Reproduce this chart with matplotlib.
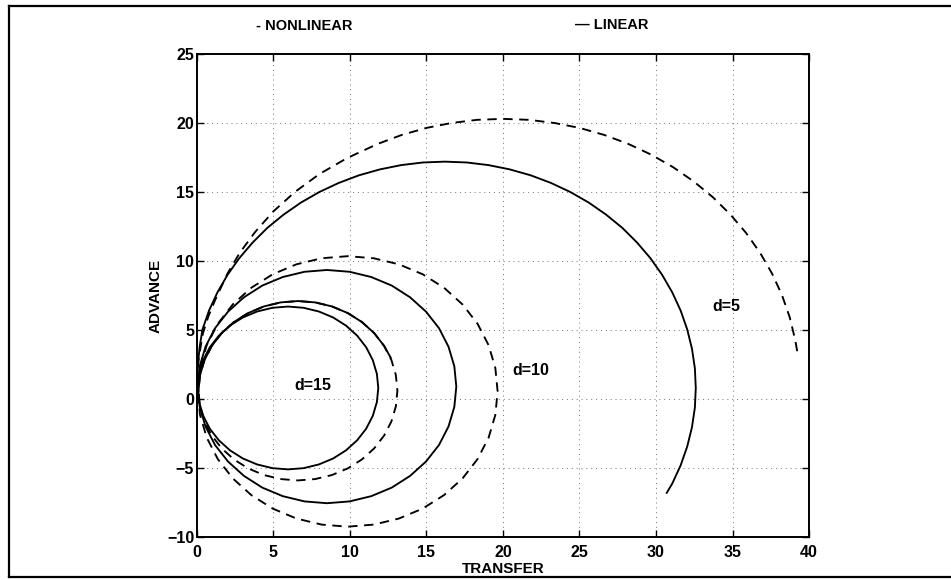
import matplotlib.pyplot as plt
from matplotlib.lines import Line2D

plt.rcParams['font.family'] = ['Liberation Sans', 'DejaVu Sans']
plt.rcParams['font.weight'] = 'bold'
plt.rcParams['axes.labelweight'] = 'bold'

# d=5 rudder, nonlinear (solid) and linear (dashed)
d5_nl_x = [0, 0.0, 0.06, 0.18, 0.36, 0.79, 1.34, 2.0, 2.77, 3.64, 4.6, 5.66, 6.79, 8.0, 9.27,
           10.59, 11.96, 13.35, 14.77, 16.2, 17.63, 19.05, 20.44, 21.81, 23.13, 24.4, 25.61,
           26.74, 27.8, 28.76, 29.63, 30.4, 31.06, 31.61, 32.04, 32.35, 32.54, 32.6, 32.54,
           32.35, 32.04, 31.61, 31.06, 30.7]
d5_nl_y = [0, 1.2, 2.5, 3.8, 5.04, 6.41, 7.73, 9.0, 10.21, 11.34, 12.4, 13.36, 14.23, 15.0, 15.66,
           16.21, 16.64, 16.95, 17.14, 17.2, 17.14, 16.95, 16.64, 16.21, 15.66, 15.0, 14.23,
           13.36, 12.4, 11.34, 10.21, 9.0, 7.73, 6.41, 5.04, 3.65, 2.23, 0.8, -0.63,
           -2.05, -3.44, -4.81, -6.13, -6.8]
d5_li_x = [0, 0.02, 0.12, 0.4, 0.75, 1.2, 2.0, 2.8, 3.8, 5.0, 6.4, 8.0, 9.8, 11.8, 13.37, 14.98,
           16.63, 18.31, 20.0, 21.69, 23.37, 25.02, 26.63, 28.2, 29.7, 31.13, 32.47, 33.72,
           34.86, 35.89, 36.8, 37.58, 38.23, 38.74, 39.1, 39.3]
d5_li_y = [0, 1.5, 3.0, 4.8, 6.0, 7.2, 9.1, 10.6, 12.1, 13.6, 15.0, 16.3, 17.45, 18.48, 19.13, 19.64,
           20.0, 20.23, 20.3, 20.23, 20.0, 19.64, 19.13, 18.48, 17.7, 16.79, 15.76, 14.62,
           13.37, 12.03, 10.6, 9.1, 7.54, 5.92, 4.27, 3.0]

# d=10
d10_nl_x = [0, 0.05, 0.18, 0.56, 1.18, 2.03, 3.07, 4.27, 5.61, 7.03, 8.5, 9.97, 11.39, 12.73,
            13.93, 14.97, 15.82, 16.44, 16.82, 16.95, 16.82, 16.44, 15.82, 14.97, 13.93, 12.73,
            11.39, 9.97, 8.5, 7.03, 5.61, 4.27, 3.07, 2.03, 1.18, 0.56, 0.18, 0.05]
d10_nl_y = [0, 0.9, 2.37, 3.79, 5.13, 6.33, 7.37, 8.22, 8.84, 9.22, 9.35, 9.22, 8.84, 8.22,
            7.37, 6.33, 5.13, 3.79, 2.37, 0.9, -0.57, -1.99, -3.33, -4.53, -5.57, -6.42,
            -7.04, -7.42, -7.55, -7.42, -7.04, -6.42, -5.57, -4.53, -3.33, -1.99, -0.57, 0.9]
d10_li_x = [0, 0.05, 0.2, 0.64, 1.36, 2.34, 3.55, 4.95, 6.5, 8.15, 9.85, 11.55, 13.2, 14.75,
            16.15, 17.36, 18.34, 19.06, 19.5, 19.65, 19.5, 19.06, 18.34, 17.36, 16.15, 14.75,
            13.2, 11.55, 9.85, 8.15, 6.5, 4.95, 3.55, 2.34, 1.36, 0.64, 0.2, 0.05]
d10_li_y = [0, 0.55, 2.25, 3.9, 5.45, 6.85, 8.06, 9.04, 9.76, 10.2, 10.35, 10.2, 9.76, 9.04,
            8.06, 6.85, 5.45, 3.9, 2.25, 0.55, -1.15, -2.8, -4.35, -5.75, -6.96, -7.94,
            -8.66, -9.1, -9.25, -9.1, -8.66, -7.94, -6.96, -5.75, -4.35, -2.8, -1.15, 0.55]

# d=15
d15_nl_x = [0, 0.05, 0.14, 0.41, 0.84, 1.43, 2.16, 3.0, 3.93, 4.93, 5.95, 6.97, 7.97, 8.9,
            9.74, 10.47, 11.06, 11.49, 11.76, 11.85, 11.76, 11.49, 11.06, 10.47, 9.74, 8.9,
            7.97, 6.97, 5.95, 4.93, 3.93, 3.0, 2.16, 1.43, 0.84, 0.41, 0.14, 0.05]
d15_nl_y = [0, 0.8, 1.82, 2.82, 3.75, 4.59, 5.32, 5.91, 6.34, 6.61, 6.7, 6.61, 6.34, 5.91,
            5.32, 4.59, 3.75, 2.82, 1.82, 0.8, -0.22, -1.22, -2.15, -2.99, -3.72, -4.31,
            -4.74, -5.01, -5.1, -5.01, -4.74, -4.31, -3.72, -2.99, -2.15, -1.22, -0.22, 0.8]
d15_li_x = [0, 0.1, 0.2, 0.49, 0.97, 1.62, 2.42, 3.35, 4.38, 5.47, 6.6, 7.73, 8.82, 9.85,
            10.78, 11.58, 12.23, 12.71, 13.0, 13.1, 13.0, 12.71, 12.23, 11.58, 10.78, 9.85,
            8.82, 7.73, 6.6, 5.47, 4.38, 3.35, 2.42, 1.62, 0.97, 0.49, 0.2, 0.1]
d15_li_y = [0, 0.6, 1.73, 2.82, 3.85, 4.78, 5.58, 6.23, 6.71, 7.0, 7.1, 7.0, 6.71, 6.23,
            5.58, 4.78, 3.85, 2.82, 1.73, 0.6, -0.53, -1.62, -2.65, -3.58, -4.38, -5.03,
            -5.51, -5.8, -5.9, -5.8, -5.51, -5.03, -4.38, -3.58, -2.65, -1.62, -0.53, 0.6]
# solid piece lying over the upper part of the d=15 dashed curve
d15_top_x = [0, 0.1, 0.2, 0.49, 0.97, 1.62, 2.42, 3.35, 4.38, 5.47, 6.6, 7.73, 8.82, 9.85,
             10.78, 11.58, 12.23, 12.66]
d15_top_y = [0, 0.6, 1.73, 2.82, 3.85, 4.78, 5.58, 6.23, 6.71, 7.0, 7.1, 7.0, 6.71, 6.23,
             5.58, 4.78, 3.85, 3.0]

labels = ['d=5', 'd=10', 'd=15']
label_x = [34.6, 21.8, 7.6]
label_y = [6.7, 2.1, 1.0]

xticks = [0, 5, 10, 15, 20, 25, 30, 35, 40]
yticks = [-10, -5, 0, 5, 10, 15, 20, 25]

fig = plt.figure(figsize=(9.51, 5.80), dpi=100)
ax = fig.add_axes([0.2071, 0.0741, 0.6436, 0.8328])

dash = (0, (5, 3.5))
lw = 1.35
for x, y in [(d5_nl_x, d5_nl_y), (d10_nl_x, d10_nl_y), (d15_nl_x, d15_nl_y), (d15_top_x, d15_top_y)]:
    ax.plot(x, y, color='black', lw=lw, solid_joinstyle='round')
for x, y in [(d5_li_x, d5_li_y), (d10_li_x, d10_li_y), (d15_li_x, d15_li_y)]:
    ax.plot(x, y, color='black', lw=lw, linestyle=dash)

for t, x, y in zip(labels, label_x, label_y):
    ax.text(x, y, t, ha='center', va='center', fontsize=11.5)

ax.set_xlim(0, 40)
ax.set_ylim(-10, 25)
ax.set_xticks(xticks)
ax.set_yticks(yticks)
ax.grid(True, color='0.45', linestyle=(0, (1, 4)), linewidth=0.7)
ax.tick_params(direction='in', length=5, width=1, top=True, right=True, labelsize=11.5)
ax.tick_params(axis='x', pad=6)
ax.tick_params(axis='y', pad=2)
for s in ax.spines.values():
    s.set_linewidth(1.4)

ax.set_xlabel('TRANSFER', fontsize=11, labelpad=1)
ax.set_ylabel('ADVANCE', fontsize=11, labelpad=3)

fig.text(0.320, 0.955, '- NONLINEAR', ha='center', va='center', fontsize=10.5)
fig.text(0.643, 0.957, '— LINEAR', ha='center', va='center', fontsize=10.5)

# outer frame
fig.add_artist(Line2D([0.009, 0.009], [0.005, 0.99], color='black', lw=1.6))
fig.add_artist(Line2D([0.009, 1.0], [0.99, 0.99], color='black', lw=1.6))
fig.add_artist(Line2D([0.009, 1.0], [0.005, 0.005], color='black', lw=1.6))

fig.savefig('out.png', dpi=100)
